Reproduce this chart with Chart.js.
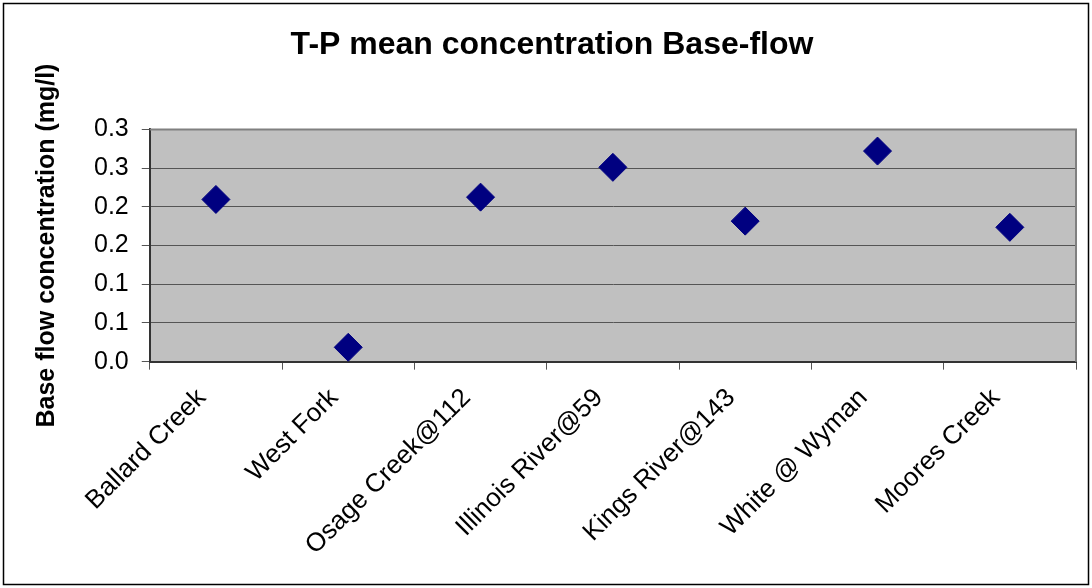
<!DOCTYPE html>
<html>
<head>
<meta charset="utf-8">
<script src="https://cdn.jsdelivr.net/npm/chart.js@4"></script>
<style>
  body { margin: 0; background: #fff; }
</style>
</head>
<body>
<canvas id="grafico" width="1092" height="588"></canvas>
<script>
const categorias = ['Ballard Creek', 'West Fork', 'Osage Creek@112', 'Illinois River@59', 'Kings River@143', 'White @ Wyman', 'Moores Creek'];
const concentracao = [0.2095, 0.0185, 0.2125, 0.251, 0.1815, 0.272, 0.1735];
const rotulosY = ['0.0', '0.1', '0.1', '0.2', '0.2', '0.3', '0.3'];

const fonte = "'Liberation Sans', Arial, sans-serif";

// fundo cinza da area do grafico e moldura externa
const fundo = {
    id: 'fundo',
    beforeDraw(chart) {
        const { ctx, chartArea: a } = chart;
        ctx.save();
        ctx.fillStyle = '#c0c0c0';
        ctx.fillRect(a.left, a.top, a.right - a.left, a.bottom - a.top);
        ctx.restore();
    },
    afterDraw(chart) {
        const { ctx, chartArea: a } = chart;
        ctx.save();
        ctx.strokeStyle = '#808080';
        ctx.lineWidth = 2;
        ctx.beginPath();
        ctx.moveTo(a.left, a.top);
        ctx.lineTo(a.right, a.top);
        ctx.lineTo(a.right, a.bottom);
        ctx.stroke();
        ctx.strokeStyle = '#000';
        ctx.lineWidth = 1.5;
        ctx.strokeRect(3.5, 3.5, 1085, 581);
        ctx.restore();
    }
};

new Chart(document.getElementById('grafico'), {
    type: 'line',
    data: {
        labels: categorias,
        datasets: [{
            data: concentracao,
            showLine: false,
            pointStyle: 'rectRot',
            pointRadius: 14,
            pointHoverRadius: 14,
            pointBackgroundColor: '#000080',
            pointBorderColor: '#000080',
            pointBorderWidth: 1
        }]
    },
    options: {
        responsive: false,
        animation: false,
        layout: { padding: { left: 28, right: 16, top: 0, bottom: 14 } },
        plugins: {
            legend: { display: false },
            tooltip: { enabled: false },
            title: {
                display: true,
                text: 'T-P mean concentration Base-flow',
                color: '#000',
                font: { family: fonte, size: 32, weight: 'bold' },
                padding: { top: 26, bottom: 65 }
            }
        },
        scales: {
            x: {
                offset: true,
                grid: {
                    offset: true,
                    drawOnChartArea: false,
                    drawTicks: true,
                    tickLength: 8,
                    color: '#555'
                },
                border: { color: '#333', width: 2 },
                ticks: {
                    autoSkip: false,
                    minRotation: 45,
                    maxRotation: 45,
                    padding: 13,
                    labelOffset: -14,
                    color: '#000',
                    font: { family: fonte, size: 26 }
                }
            },
            y: {
                min: 0,
                max: 0.3,
                grid: { color: '#555', tickLength: 8 },
                border: { color: '#333', width: 2 },
                ticks: {
                    stepSize: 0.05,
                    padding: 13,
                    color: '#000',
                    font: { family: fonte, size: 25 },
                    callback: (v, i) => rotulosY[i]
                },
                title: {
                    display: true,
                    text: 'Base flow concentration (mg/l)',
                    color: '#000',
                    font: { family: fonte, size: 25, weight: 'bold' },
                    padding: { top: 4, bottom: 19 }
                }
            }
        }
    },
    plugins: [fundo]
});
</script>
</body>
</html>
